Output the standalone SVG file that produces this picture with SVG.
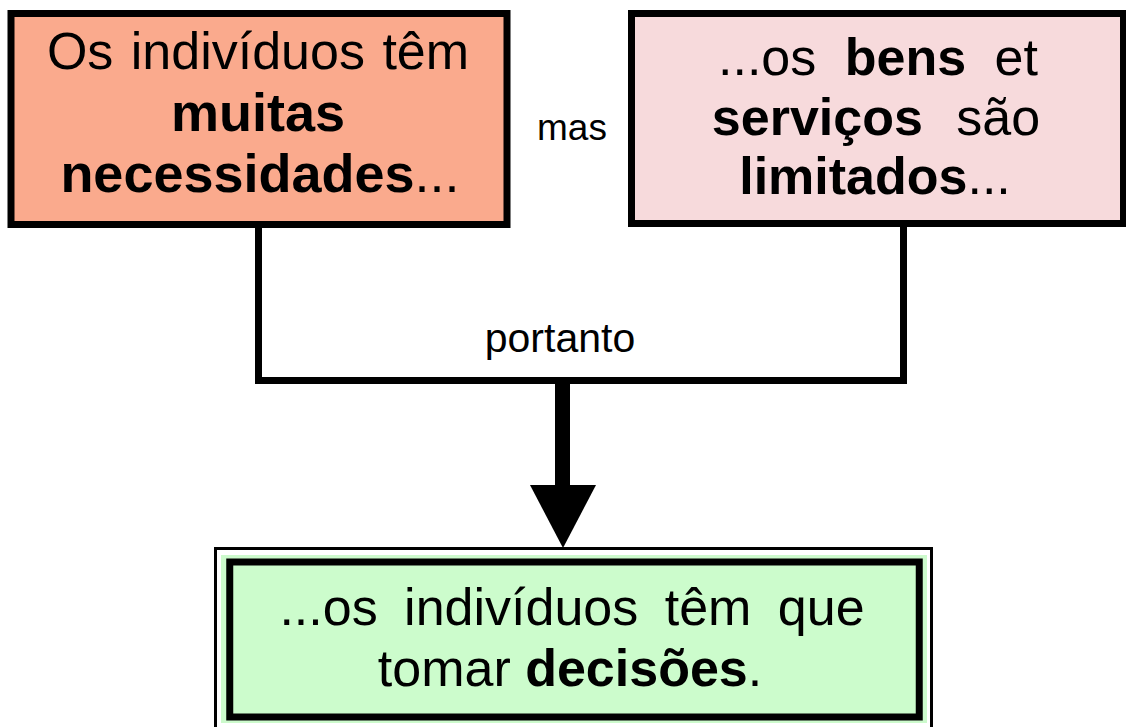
<svg xmlns="http://www.w3.org/2000/svg" width="1126" height="727" viewBox="0 0 1126 727">
<style>
  .t { font-family: "Liberation Sans", Arial, sans-serif; font-size: 52px; fill: #000; text-anchor: middle; }
  .big { font-size: 54px; }
  .b { font-weight: bold; }
  .lbl { font-family: "Liberation Sans", Arial, sans-serif; fill: #000; text-anchor: middle; }
  .box { stroke: #000; stroke-width: 7; }
  .wire { fill: none; stroke: #000; stroke-width: 7; stroke-linejoin: miter; stroke-linecap: square; }
</style>
<rect width="1126" height="727" fill="#fff"/>
<g id="connectors">
  <polyline class="wire" points="258.5,228 258.5,380.5 903.5,380.5 903.5,222"/>
  <line x1="562.5" y1="384" x2="562.5" y2="487" stroke="#000" stroke-width="15"/>
  <polygon points="530,485 596,485 563,548" fill="#000"/>
  <text class="lbl" x="572" y="140" font-size="37">mas</text>
  <text class="lbl" x="560" y="352" font-size="41">portanto</text>
</g>
<g id="node-necessidades">
  <rect class="box" x="11" y="13.5" width="496" height="211" fill="#FAAA8D"/>
  <text class="t" x="258" y="69" font-size="53" word-spacing="3">Os indivíduos têm</text>
  <text class="t big b" x="258" y="131">muitas</text>
  <text class="t big" x="260" y="192"><tspan class="b">necessidades</tspan>...</text>
</g>
<g id="node-bens">
  <rect class="box" x="631.5" y="13.5" width="492" height="210" fill="#F7DADC"/>
  <text class="t" x="878" y="75" word-spacing="14">...os <tspan class="b">bens</tspan> et</text>
  <text class="t" x="876" y="135" word-spacing="19"><tspan class="b">serviços</tspan> são</text>
  <text class="t" x="875" y="194"><tspan class="b">limitados</tspan>...</text>
</g>
<g id="node-decisoes">
  <rect x="215.5" y="548.5" width="716" height="200" fill="#fff" stroke="#000" stroke-width="3"/>
  <rect x="221" y="555" width="706" height="168" fill="#CCFACC"/>
  <rect class="box" x="229.75" y="562" width="689.5" height="155" fill="#CCFCCC" stroke-width="7.5"/>
  <text class="t" x="572" y="625" word-spacing="12">...os indivíduos têm que</text>
  <text class="t" x="570" y="686" font-size="53">tomar <tspan class="b">decisões</tspan>.</text>
</g>
</svg>
